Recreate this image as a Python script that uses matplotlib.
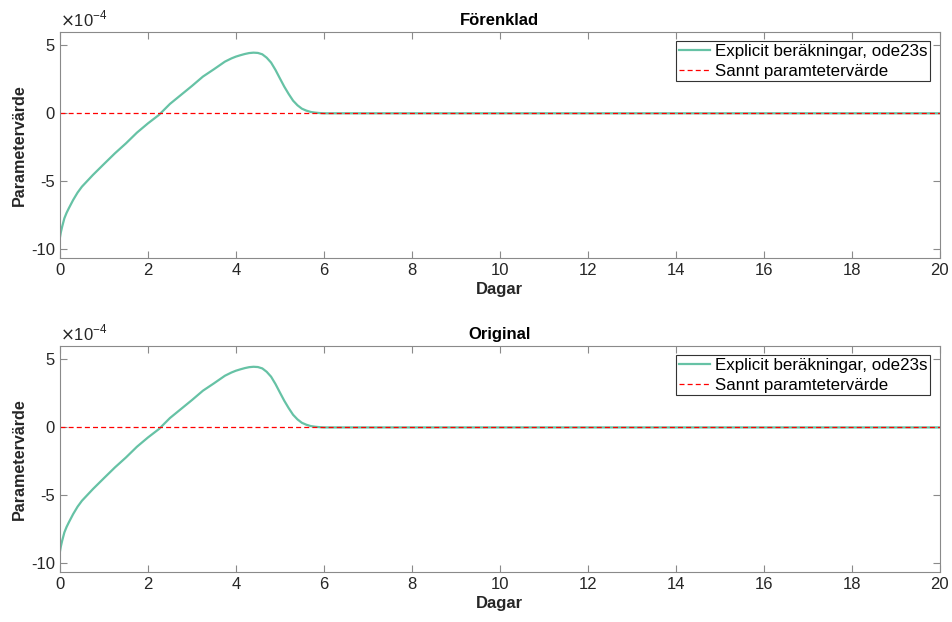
import numpy as np
import matplotlib
matplotlib.use('Agg')
import matplotlib.pyplot as plt

plt.rcParams['font.family'] = ['Liberation Sans', 'DejaVu Sans']
plt.rcParams['axes.unicode_minus'] = False

# parameter estimate over time (units of 1e-4)
days = [0.0, 0.02, 0.05, 0.1, 0.15, 0.2, 0.3, 0.4, 0.5, 0.75, 1.0, 1.25, 1.5,
        1.75, 2.0, 2.25, 2.5, 2.75, 3.0, 3.25, 3.5, 3.75, 3.9, 4.0, 4.1, 4.2,
        4.3, 4.4, 4.5, 4.6, 4.7, 4.8, 4.9, 5.0, 5.1, 5.2, 5.3, 5.4, 5.5, 5.6,
        5.7, 5.8, 5.9, 6.0, 20.0]
param = [-9.12, -8.75, -8.33, -7.72, -7.32, -6.99, -6.37, -5.83, -5.39, -4.53,
         -3.73, -2.94, -2.21, -1.42, -0.74, -0.12, 0.69, 1.35, 2.01, 2.70, 3.24,
         3.80, 4.04, 4.17, 4.27, 4.36, 4.43, 4.46, 4.44, 4.34, 4.09, 3.73, 3.19,
         2.57, 1.96, 1.42, 0.93, 0.59, 0.34, 0.20, 0.10, 0.05, 0.02, 0.0, 0.0]
true_value = 0.0
titles = ['Förenklad', 'Original']
xticks = [0, 2, 4, 6, 8, 10, 12, 14, 16, 18, 20]
yticks = [-10, -5, 0, 5]

green = '#66c2a5'
spine_col = '#8a8a8a'
text_col = '#262626'

fig = plt.figure(figsize=(9.52, 6.22), dpi=100)
positions = [[0.063, 0.585, 0.924, 0.364], [0.063, 0.080, 0.924, 0.364]]

for pos, title in zip(positions, titles):
    ax = fig.add_axes(pos)
    ax.plot(days, param, color=green, lw=1.6, label='Explicit beräkningar, ode23s')
    ax.axhline(true_value, color='red', ls='--', lw=0.9, dashes=(4, 2.5),
               label='Sannt paramtetervärde')
    ax.set_xlim(0, 20)
    ax.set_ylim(-10.65, 6)
    ax.set_xticks(xticks)
    ax.set_yticks(yticks)
    ax.tick_params(direction='in', top=True, right=True, labelsize=12,
                   colors=spine_col, labelcolor=text_col, length=5, width=0.8)
    for s in ax.spines.values():
        s.set_color(spine_col)
        s.set_linewidth(0.8)
    ax.set_title(title, fontsize=12, fontweight='bold', color='black', pad=5)
    ax.set_xlabel('Dagar', fontsize=12, fontweight='bold', color=text_col, labelpad=3)
    ax.set_ylabel('Parametervärde', fontsize=11.6, fontweight='bold', color=text_col, labelpad=3)
    ax.text(0.0, 1.012, r'$\times$10$^{\mathregular{-4}}$', transform=ax.transAxes,
            fontsize=12, color=text_col, ha='left', va='bottom')
    leg = ax.legend(loc='upper right', fontsize=12.2, fancybox=False, framealpha=1,
                    edgecolor='#333333', handlelength=1.85, borderaxespad=0.55,
                    borderpad=0.15, labelspacing=0.3, handletextpad=0.3)
    leg.get_frame().set_linewidth(0.8)

plt.savefig('out.png', dpi=100)
